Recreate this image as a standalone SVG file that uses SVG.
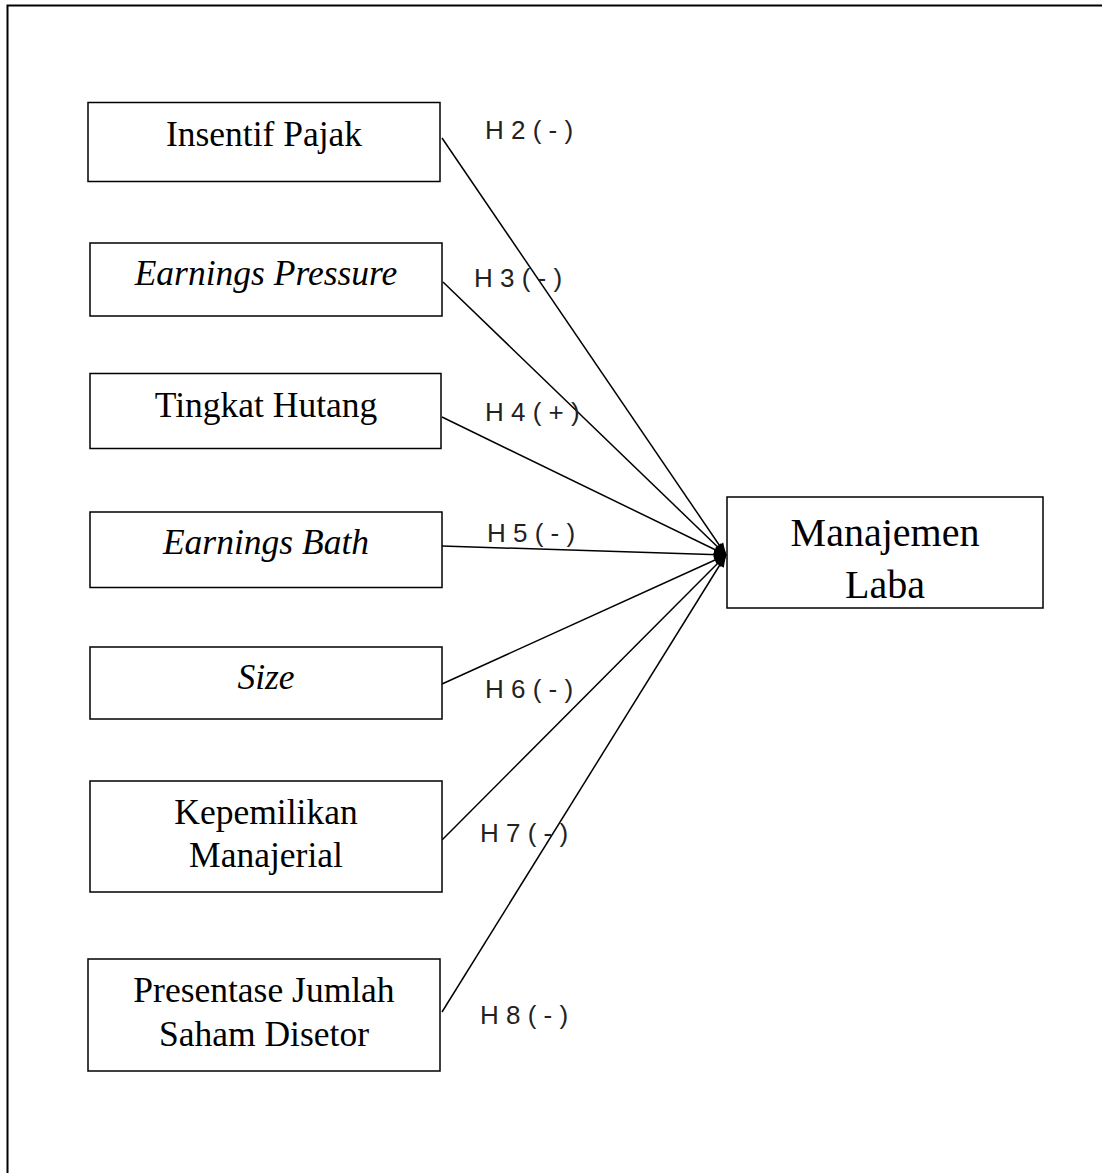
<svg xmlns="http://www.w3.org/2000/svg" width="1102" height="1173" viewBox="0 0 1102 1173">
<style>
.box{fill:#fff;stroke:#000;stroke-width:1.5}
.t{font-family:"Liberation Serif",serif;font-size:35.5px;fill:#000;text-anchor:middle}
.i{font-style:italic}
.h{font-family:"Liberation Sans",sans-serif;font-size:26px;fill:#222}
.c{stroke:#000;stroke-width:1.5;fill:none;marker-end:url(#ah)}
</style>
<defs>
<marker id="ah" viewBox="0 0 10 10" refX="10" refY="5" markerWidth="14" markerHeight="12" orient="auto" markerUnits="userSpaceOnUse">
<path d="M0,1 L10,5 L0,9 z" fill="#000"/>
</marker>
</defs>
<rect width="1102" height="1173" fill="#fff"/>
<path d="M7.5,1173 V5.5 H1102" fill="none" stroke="#000" stroke-width="2"/>
<g id="connectors">
<line class="c" x1="442" y1="138" x2="726" y2="555"/>
<line class="c" x1="443" y1="282" x2="726" y2="555"/>
<line class="c" x1="442" y1="417" x2="726" y2="555"/>
<line class="c" x1="442" y1="546" x2="726" y2="555"/>
<line class="c" x1="442" y1="684" x2="726" y2="555"/>
<line class="c" x1="442" y1="840" x2="726" y2="555"/>
<line class="c" x1="442" y1="1012" x2="726" y2="555"/>
<ellipse cx="720" cy="555" rx="6" ry="9" fill="#000"/>
</g>
<g id="labels">
<text class="h" x="485" y="139">H 2  ( - )</text>
<text class="h" x="474" y="287">H 3 ( - )</text>
<text class="h" x="485" y="421">H 4 ( + )</text>
<text class="h" x="487" y="542">H 5 ( - )</text>
<text class="h" x="485" y="698">H 6 ( - )</text>
<text class="h" x="480" y="842">H 7 ( - )</text>
<text class="h" x="480" y="1024">H 8 ( - )</text>
</g>
<g id="insentif"><rect class="box" x="88" y="102.5" width="352" height="79"/><text class="t" x="264" y="146">Insentif Pajak</text></g>
<g id="pressure"><rect class="box" x="90" y="243" width="352" height="73"/><text class="t i" x="266" y="285">Earnings Pressure</text></g>
<g id="hutang"><rect class="box" x="90" y="373.5" width="351" height="75"/><text class="t" x="266" y="417">Tingkat Hutang</text></g>
<g id="bath"><rect class="box" x="90" y="512" width="352" height="75.5"/><text class="t i" x="266" y="554">Earnings Bath</text></g>
<g id="size"><rect class="box" x="90" y="647" width="352" height="72"/><text class="t i" x="266" y="689">Size</text></g>
<g id="kepemilikan"><rect class="box" x="90" y="781" width="352" height="111"/><text class="t" x="266" y="824">Kepemilikan</text><text class="t" x="266" y="867">Manajerial</text></g>
<g id="presentase"><rect class="box" x="88" y="959" width="352" height="112"/><text class="t" x="264" y="1002">Presentase Jumlah</text><text class="t" x="264" y="1046">Saham Disetor</text></g>
<g id="manajemen"><rect class="box" x="727" y="497" width="316" height="111"/><text class="t" x="885" y="546" style="font-size:40px">Manajemen</text><text class="t" x="885" y="598" style="font-size:40px">Laba</text></g>
</svg>
